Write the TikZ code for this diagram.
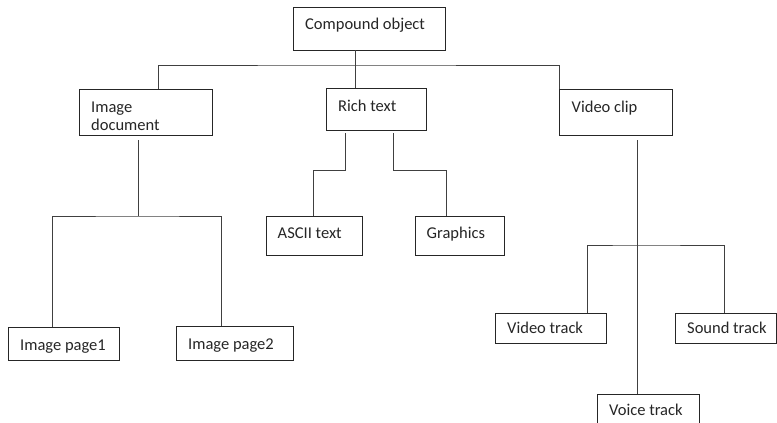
\documentclass[tikz,border=0pt]{standalone}
\usepackage{fontspec}
\setmainfont{Carlito}
\usetikzlibrary{calc}
\begin{document}
\begin{tikzpicture}[x=1pt,y=-1pt,
  box/.style={draw=black!85, line width=1pt, anchor=north west, inner sep=0pt, outer sep=0pt},
  txt/.style={anchor=base west, inner sep=0pt, text=black!85, font=\fontsize{16.5}{18.5}\selectfont},
  conn/.style={draw=black!75, line width=1pt}]
\clip (0,0) rectangle (777,423);
\fill[white] (0,0) rectangle (777,423);
% boxes
\node[box, minimum width=152pt, minimum height=43pt] (compound) at (293,7) {};
\node[box, minimum width=133pt, minimum height=46pt] (imgdoc) at (79,89) {};
\node[box, minimum width=100pt, minimum height=42pt] (rich) at (326,88) {};
\node[box, minimum width=113pt, minimum height=46pt] (video) at (559,89) {};
\node[box, minimum width=96pt, minimum height=39pt] (ascii) at (266,216) {};
\node[box, minimum width=89pt, minimum height=39pt] (graphics) at (415,216) {};
\node[box, minimum width=111pt, minimum height=33pt] (page1) at (8,327) {};
\node[box, minimum width=117pt, minimum height=34pt] (page2) at (176,326) {};
\node[box, minimum width=111pt, minimum height=30pt] (vtrack) at (495,313) {};
\node[box, minimum width=101.5pt, minimum height=30pt] (strack) at (675,313) {};
\node[box, minimum width=102pt, minimum height=40pt] (voice) at (597,394) {};
% texts
\node[txt] (compound-t) at ([xshift=12pt,yshift=-22pt]compound.north west) {Compound object};
\node[txt] (imgdoc-t1) at ([xshift=12pt,yshift=-23pt]imgdoc.north west) {Image};
\node[txt] (imgdoc-t2) at ([xshift=12pt,yshift=-41pt]imgdoc.north west) {document};
\node[txt] (rich-t) at ([xshift=12pt,yshift=-23pt]rich.north west) {Rich text};
\node[txt] (video-t) at ([xshift=12.5pt,yshift=-23pt]video.north west) {Video clip};
\node[txt] (ascii-t) at ([xshift=11.5pt,yshift=-22pt]ascii.north west) {ASCII text};
\node[txt] (graphics-t) at ([xshift=11.5pt,yshift=-22pt]graphics.north west) {Graphics};
\node[txt] (page1-t) at ([xshift=12pt,yshift=-23pt]page1.north west) {Image page1};
\node[txt] (page2-t) at ([xshift=12pt,yshift=-23pt]page2.north west) {Image page2};
\node[txt] (vtrack-t) at ([xshift=12pt,yshift=-20.5pt]vtrack.north west) {Video track};
\node[txt] (strack-t) at ([xshift=12pt,yshift=-20.5pt]strack.north west) {Sound track};
\node[txt] (voice-t) at ([xshift=12pt,yshift=-21pt]voice.north west) {Voice track};
% connectors
\coordinate (topbar) at (355,65);
\draw[conn] ([xshift=62pt]compound.south west) -- ([xshift=29pt]rich.north west);
\draw[conn] (imgdoc.north -| 158,0) |- (topbar) -| (video.north west);
\coordinate (imgbar) at (138,216);
\draw[conn] ([xshift=59pt,yshift=-5pt]imgdoc.south west) -- (imgbar);
\draw[conn] ([xshift=44pt]page1.north west) |- (imgbar) -| ([xshift=45pt]page2.north west);
\draw[conn] ([xshift=19pt,yshift=-3pt]rich.south west) |- (313,170) -- ([xshift=47pt]ascii.north west);
\draw[conn] ([xshift=67pt,yshift=-3pt]rich.south west) |- (446,170) -- ([xshift=31pt]graphics.north west);
\coordinate (vidbar) at (637,245);
\draw[conn] ([xshift=78pt,yshift=-5pt]video.south west) -- ([xshift=40pt]voice.north west);
\draw[conn] ([xshift=92pt]vtrack.north west) |- (vidbar) -| ([xshift=49pt]strack.north west);
\end{tikzpicture}
\end{document}
